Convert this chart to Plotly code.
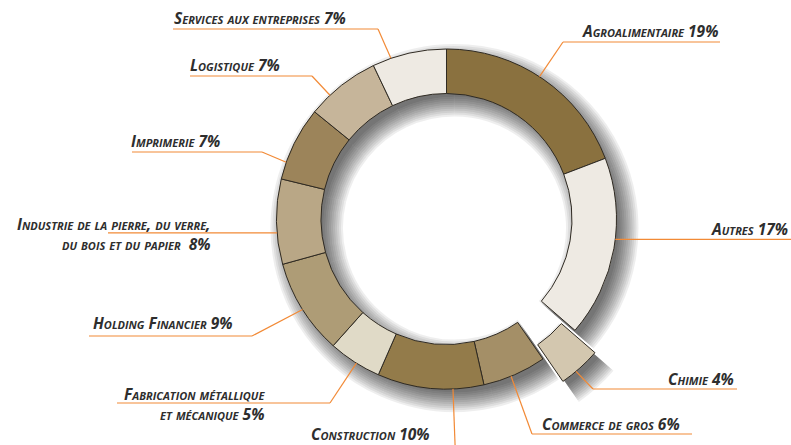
import math
import plotly.graph_objects as go

# ---------------- data ----------------
categories = ["Agroalimentaire", "Autres", "Chimie", "Commerce de gros", "Construction",
              "Fabrication métallique et mécanique", "Holding Financier",
              "Industrie de la pierre, du verre, du bois et du papier",
              "Imprimerie", "Logistique", "Services aux entreprises"]
values = [19, 17, 4, 6, 10, 5, 9, 8, 7, 7, 7]
label_texts = ["Agroalimentaire 19%", "Autres 17%", "Chimie 4%", "Commerce de gros 6%",
               "Construction 10%", "Fabrication métallique<br>et mécanique 5%",
               "Holding Financier 9%",
               "Industrie de la pierre, du verre,<br>du bois et du papier  8%",
               "Imprimerie 7%", "Logistique 7%", "Services aux entreprises 7%"]
pulled = [False, False, True, False, False, False, False, False, False, False, False]

# ---------------- style / layout ----------------
colors = ["#8A713F", "#EEEAE3", "#D3C7AF", "#A48F67", "#937B4A", "#E0DAC7",
          "#AE9C76", "#B9A786", "#9C845A", "#C6B59A", "#EEEAE3"]
W, H = 791, 445
CX, CY, R, R_IN = 446.5, 219.0, 170.0, 125.5
PULL_PX = 30.0
LEADER = "#F28A36"
TEXT = "#2E2E2E"

# per label: anchor fraction inside slice, elbow x, line y, end x, label right x, label center y
label_layout = [
    dict(frac=0.48, elbow=563, ly=42, end=720, tx=720, ty=31),     # Agro
    dict(frac=0.45, elbow=None, ly=None, end=791, tx=790, ty=229),  # Autres
    dict(frac=0.60, elbow=593, ly=389, end=737, tx=736, ty=378.5),  # Chimie
    dict(frac=0.56, elbow=532, ly=434, end=692, tx=682, ty=424),    # Commerce
    dict(frac=0.29, elbow=456, ly=470, end=456, tx=432, ty=434),    # Construction
    dict(frac=0.46, elbow=330, ly=403, end=117, tx=267, ty=404),    # Fabrication
    dict(frac=0.49, elbow=252, ly=336, end=89, tx=234, ty=323),     # Holding
    dict(frac=0.37, elbow=None, ly=None, end=108, tx=213, ty=233.5),# Industrie
    dict(frac=0.23, elbow=262, ly=152, end=132, tx=222, ty=141),    # Imprimerie
    dict(frac=0.30, elbow=312, ly=76, end=190, tx=282, ty=65.5),    # Logistique
    dict(frac=0.25, elbow=378, ly=29, end=173, tx=348, ty=18.5),    # Services
]


def pie_domain(cx, cy, r, pull):
    ext = r * (1 + pull)
    return dict(x=[(cx - ext) / W, (cx + ext) / W],
                y=[1 - (cy + ext) / H, 1 - (cy - ext) / H])


fig = go.Figure()

# soft drop shadow made of stacked translucent rings
for e in range(-6, 16, 2):
    r_out = R + e
    r_in = R_IN - e
    p = PULL_PX / r_out
    fig.add_trace(go.Pie(
        labels=categories, values=values, sort=False, direction="clockwise", rotation=0,
        hole=r_in / r_out, pull=[p if pf else 0 for pf in pulled],
        marker=dict(colors=["rgba(0,0,0,0.065)"] * len(values), line=dict(width=0)),
        textinfo="none", hoverinfo="skip", showlegend=False,
        domain=pie_domain(CX + 8, CY + 9, r_out, p)))

main_pull = PULL_PX / R
fig.add_trace(go.Pie(
    labels=categories, values=values, sort=False, direction="clockwise", rotation=0,
    hole=R_IN / R, pull=[main_pull if pf else 0 for pf in pulled],
    marker=dict(colors=colors, line=dict(color="#2F2A22", width=1)),
    textinfo="none", showlegend=False,
    domain=pie_domain(CX, CY, R, main_pull)))

# leader lines + labels
total = sum(values)
cum = 0
shapes, annotations = [], []
for v, txt, pf, lay in zip(values, label_texts, pulled, label_layout):
    a0 = 360 * cum / total
    a1 = 360 * (cum + v) / total
    cum += v
    ang = math.radians(a0 + lay["frac"] * (a1 - a0))
    rr = R + (PULL_PX if pf else 0)
    ax, ay = CX + rr * math.sin(ang), CY - rr * math.cos(ang)
    if lay["elbow"] is None:
        pts = [(ax, ay), (lay["end"], ay)]
    else:
        pts = [(ax, ay), (lay["elbow"], lay["ly"]), (lay["end"], lay["ly"])]
    for (x0, y0), (x1, y1) in zip(pts[:-1], pts[1:]):
        shapes.append(dict(type="line", xref="paper", yref="paper",
                           x0=x0 / W, y0=1 - y0 / H, x1=x1 / W, y1=1 - y1 / H,
                           line=dict(color=LEADER, width=1.2)))
    annotations.append(dict(
        text=txt, xref="paper", yref="paper", x=lay["tx"] / W, y=1 - lay["ty"] / H,
        xanchor="right", yanchor="middle", align="right", showarrow=False,
        font=dict(family="Open Sans", size=15.5, color=TEXT, weight="bold",
                  style="italic", variant="small-caps")))

fig.update_layout(
    width=W, height=H, margin=dict(l=0, r=0, t=0, b=0),
    paper_bgcolor="white", plot_bgcolor="white",
    shapes=shapes, annotations=annotations, showlegend=False)

fig.write_html("out.html", config={"displayModeBar": False},
               post_script="document.body.style.margin='0';document.body.style.overflow='hidden';")
